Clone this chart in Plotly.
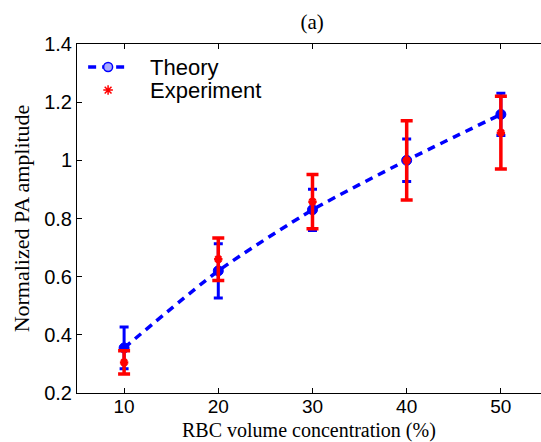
import plotly.graph_objects as go

concentration = [10, 20, 30, 40, 50]
theory = [0.355, 0.62, 0.83, 1.0, 1.158]
theory_err = [0.072, 0.093, 0.071, 0.073, 0.073]
experiment = [0.305, 0.66, 0.858, 1.0, 1.095]
experiment_err = [0.04, 0.073, 0.093, 0.136, 0.125]

ytick_vals = [0.2, 0.4, 0.6, 0.8, 1.0, 1.2, 1.4]
ytick_text = ["0.2", "0.4", "0.6", "0.8", "1", "1.2", "1.4"]
xtick_vals = [10, 20, 30, 40, 50]

series_names = ["Theory", "Experiment"]
x_title = "RBC volume concentration (%)"
y_title = "Normalized PA amplitude"

blue = "#0000ff"
red = "#ff0000"

# legend layout (fractions of the plot area)
LEG_LINE_X = [0.024, 0.110]
LEG_MARK_X = 0.067
LEG_ROW_Y = [0.934, 0.868]
LEG_TEXT_X = 0.153

fig = go.Figure()
fig.add_trace(go.Scatter(
    x=concentration, y=theory, name=series_names[0], mode="lines+markers",
    line=dict(color=blue, width=3.5, dash="8px,6px", shape="spline", smoothing=0.6),
    marker=dict(symbol="circle", size=10, color=blue, line=dict(color=blue, width=1)),
    error_y=dict(type="data", array=theory_err, color=blue, thickness=3, width=4.5),
    showlegend=False,
))
fig.add_trace(go.Scatter(
    x=concentration, y=experiment, name=series_names[1], mode="markers",
    marker=dict(symbol="asterisk-open", size=7, color=red, line=dict(color=red, width=2.5)),
    error_y=dict(type="data", array=experiment_err, color=red, thickness=3.5, width=6),
    showlegend=False,
))

# manual legend symbols on an overlay axis spanning the plot area
fig.add_trace(go.Scatter(
    x=LEG_LINE_X, y=[LEG_ROW_Y[0]] * 2, xaxis="x2", yaxis="y2", mode="lines",
    line=dict(color=blue, width=3.5, dash="8px,6px"), showlegend=False, hoverinfo="skip",
))
fig.add_trace(go.Scatter(
    x=[LEG_MARK_X], y=[LEG_ROW_Y[0]], xaxis="x2", yaxis="y2", mode="markers",
    marker=dict(symbol="circle", size=9, color="#aaaaff", line=dict(color=blue, width=1.5)),
    showlegend=False, hoverinfo="skip",
))
fig.add_trace(go.Scatter(
    x=[LEG_MARK_X], y=[LEG_ROW_Y[1]], xaxis="x2", yaxis="y2", mode="markers",
    marker=dict(symbol="asterisk-open", size=8, color=red, line=dict(color=red, width=1.5)),
    showlegend=False, hoverinfo="skip",
))

legfont = dict(family="Liberation Sans, Arial, sans-serif", size=22, color="black")
for name, yy in zip(series_names, LEG_ROW_Y):
    fig.add_annotation(text=name, x=LEG_TEXT_X, y=yy, xref="paper", yref="paper",
                       xanchor="left", yanchor="middle", showarrow=False, font=legfont)

tickfont = dict(family="Liberation Sans, Arial, sans-serif", size=19, color="black")
ytickfont = dict(family="Liberation Sans, Arial, sans-serif", size=20, color="black")
titlefont = dict(family="Liberation Serif, Times New Roman, serif", size=22, color="black")
xtitlefont = dict(family="Liberation Serif, Times New Roman, serif", size=20, color="black")

# x-axis title as an annotation below the tick labels
fig.add_annotation(text=x_title, x=0.5, y=0, xref="paper", yref="paper",
                   xanchor="center", yanchor="top", yshift=-25, showarrow=False,
                   font=xtitlefont, borderpad=0)

fig.update_layout(
    width=541, height=442,
    margin=dict(l=77, r=0, t=44, b=49),
    paper_bgcolor="white", plot_bgcolor="white",
    title=dict(text="(a)", x=0.577, xanchor="center", y=0.952, yanchor="middle",
               font=dict(family="Liberation Serif, Times New Roman, serif", size=21, color="black")),
    showlegend=False,
    xaxis=dict(range=[5, 54.26], tickvals=xtick_vals, ticks="inside", ticklen=5,
               tickcolor="black", showline=True, linecolor="black", linewidth=1,
               mirror="ticks", showgrid=False, zeroline=False, tickfont=tickfont,
               ticklabelstandoff=-4),
    yaxis=dict(range=[0.2, 1.4], tickvals=ytick_vals, ticktext=ytick_text, ticks="inside",
               ticklen=5, tickcolor="black", showline=True, linecolor="black", linewidth=1,
               showgrid=False, zeroline=False, tickfont=ytickfont,
               title=dict(text=y_title, font=titlefont, standoff=8)),
    xaxis2=dict(range=[0, 1], overlaying="x", visible=False, fixedrange=True),
    yaxis2=dict(range=[0, 1], overlaying="y", visible=False, fixedrange=True),
)

fig.write_html("out.html", config={"displayModeBar": False},
               post_script="document.body.style.margin='0';document.body.style.overflow='hidden';")
